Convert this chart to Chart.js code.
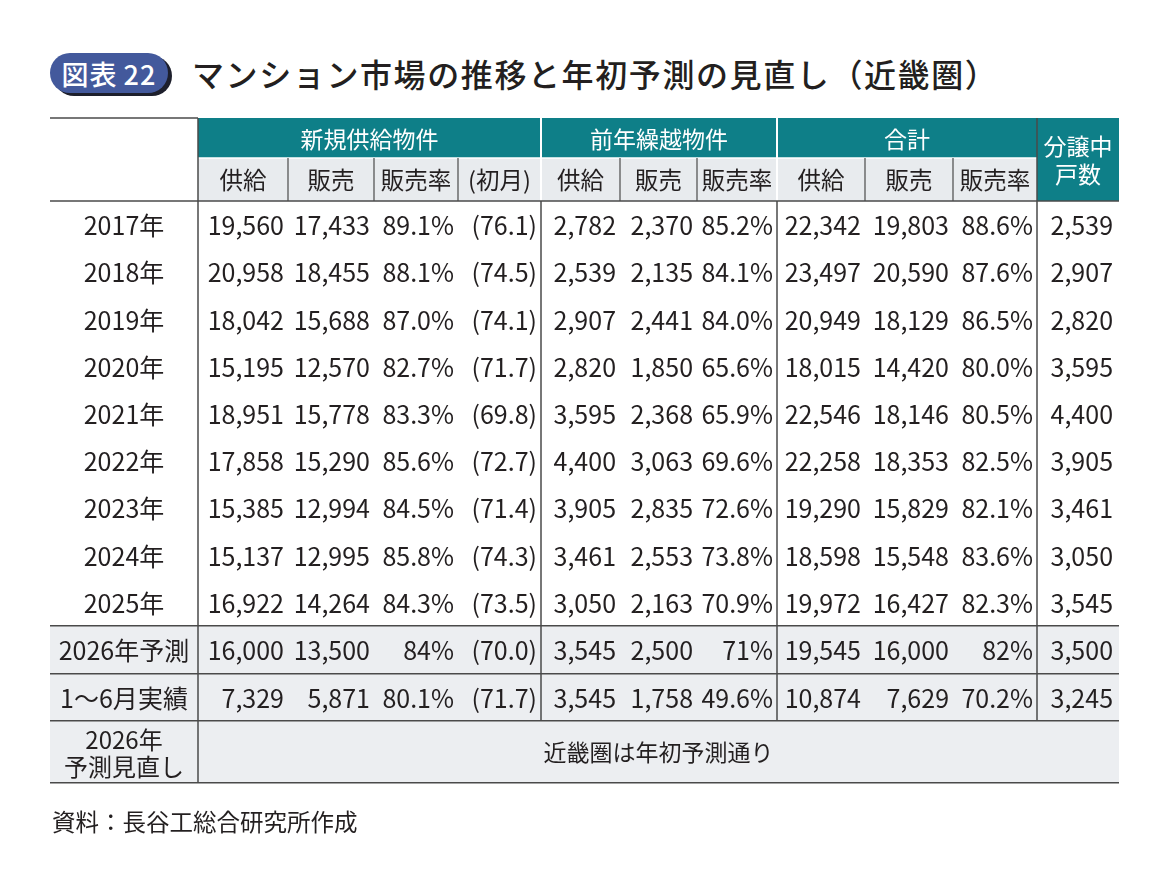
<!DOCTYPE html>
<html lang="ja">
<head>
<meta charset="utf-8">
<title>マンション市場の推移と年初予測の見直し（近畿圏）</title>
<script src="https://cdn.jsdelivr.net/npm/chart.js@4.4.1/dist/chart.umd.min.js"></script>
<style>
  html, body { margin: 0; padding: 0; background: #fff; }
  body {
    width: 1170px; height: 881px; position: relative; overflow: hidden;
    font-family: "Noto Sans CJK JP", "Noto Sans", sans-serif; color: #231f20;
  }
  #table { position: absolute; left: 0; top: 0; }
  .head { position: absolute; left: 50px; top: 53px; height: 40px; display: flex; align-items: center; }
  .badge {
    width: 118px; height: 40px; border-radius: 20px; background: #43599c;
    box-shadow: 4px 3px 0 #1d1f2c; color: #fff; font-size: 27px; font-weight: 500;
    display: flex; align-items: center; justify-content: center; letter-spacing: 1px;
  }
  .badge span { margin-left: 6px; }
  .title { margin-left: 24px; font-size: 32px; font-weight: 500; letter-spacing: 1.6px; white-space: nowrap; }
  .source { position: absolute; left: 52px; top: 804px; font-size: 23.5px; }
</style>
</head>
<body>

<div class="head">
  <div class="badge">図表<span>22</span></div>
  <div class="title">マンション市場の推移と年初予測の見直し（近畿圏）</div>
</div>

<canvas id="table" width="1170" height="881"></canvas>

<div class="source">資料：長谷工総合研究所作成</div>

<script>

/*
============================================================
Data
============================================================
*/

const groups = ["新規供給物件", "前年繰越物件", "合計"];

const subHeaders = ["供給", "販売", "販売率", "(初月)", "供給", "販売", "販売率", "供給", "販売", "販売率"];

const unsoldHeader = ["分譲中", "戸数"];

const rowLabels = ["2017年", "2018年", "2019年", "2020年", "2021年", "2022年", "2023年", "2024年", "2025年", "2026年予測", "1～6月実績"];

const newSupply = [19560, 20958, 18042, 15195, 18951, 17858, 15385, 15137, 16922, 16000, 7329];

const newSold = [17433, 18455, 15688, 12570, 15778, 15290, 12994, 12995, 14264, 13500, 5871];

const newRate = [89.1, 88.1, 87.0, 82.7, 83.3, 85.6, 84.5, 85.8, 84.3, 84, 80.1];

const firstMonthRate = [76.1, 74.5, 74.1, 71.7, 69.8, 72.7, 71.4, 74.3, 73.5, 70.0, 71.7];

const carrySupply = [2782, 2539, 2907, 2820, 3595, 4400, 3905, 3461, 3050, 3545, 3545];

const carrySold = [2370, 2135, 2441, 1850, 2368, 3063, 2835, 2553, 2163, 2500, 1758];

const carryRate = [85.2, 84.1, 84.0, 65.6, 65.9, 69.6, 72.6, 73.8, 70.9, 71, 49.6];

const totalSupply = [22342, 23497, 20949, 18015, 22546, 22258, 19290, 18598, 19972, 19545, 10874];

const totalSold = [19803, 20590, 18129, 14420, 18146, 18353, 15829, 15548, 16427, 16000, 7629];

const totalRate = [88.6, 87.6, 86.5, 80.0, 80.5, 82.5, 82.1, 83.6, 82.3, 82, 70.2];

const unsoldUnits = [2539, 2907, 2820, 3595, 4400, 3905, 3461, 3050, 3545, 3500, 3245];

// decimals shown for the 販売率 columns (the forecast row is rounded)
const rateDigits = [1, 1, 1, 1, 1, 1, 1, 1, 1, 0, 1];

const revisionLabel = ["2026年", "予測見直し"];

const revisionNote = "近畿圏は年初予測通り";

/*
============================================================
Layout
============================================================
*/

const colWidths = [148, 90, 86, 84, 83, 79, 77, 80, 88, 88, 84, 82];

const rowHeights = [40, 43, 47.2, 47.2, 47.2, 47.2, 47.2, 47.2, 47.2, 47.2, 47.2, 48, 47, 62];

const COLORS = {
    teal: "#0e7f88",
    subHeader: "#e8ebee",
    shaded: "#eceef1",
    line: "#4a4a4a",
    text: "#231f20"
};

const FONT = "'Noto Sans CJK JP', 'Noto Sans', sans-serif";

const colEdges = [0];
colWidths.forEach(w => colEdges.push(colEdges[colEdges.length - 1] + w));

const rowEdges = [0];
rowHeights.forEach(h => rowEdges.push(rowEdges[rowEdges.length - 1] + h));

const tableWidth = colEdges[colEdges.length - 1];

const tableHeight = rowEdges[rowEdges.length - 1];

/*
============================================================
Cell values per column
============================================================
*/

const fmtInt = v => v.toLocaleString("en-US");

const fmtRate = (v, i) => v.toFixed(rateDigits[i]) + "%";

const columns = [
    (i) => fmtInt(newSupply[i]),
    (i) => fmtInt(newSold[i]),
    (i) => fmtRate(newRate[i], i),
    (i) => "(" + firstMonthRate[i].toFixed(1) + ")",
    (i) => fmtInt(carrySupply[i]),
    (i) => fmtInt(carrySold[i]),
    (i) => fmtRate(carryRate[i], i),
    (i) => fmtInt(totalSupply[i]),
    (i) => fmtInt(totalSold[i]),
    (i) => fmtRate(totalRate[i], i),
    (i) => fmtInt(unsoldUnits[i])
];

/*
============================================================
Table plugin
============================================================
*/

const tablePlugin = {

    id: "tablePlugin",

    beforeDatasetsDraw(chart) {

        const { ctx, scales: { x, y } } = chart;

        const X = c => x.getPixelForValue(colEdges[c]);
        const Y = r => y.getPixelForValue(rowEdges[r]);

        const fill = (c0, c1, r0, r1, color) => {
            ctx.fillStyle = color;
            ctx.fillRect(X(c0), Y(r0), X(c1) - X(c0), Y(r1) - Y(r0));
        };

        const line = (x0, y0, x1, y1, color, width) => {
            ctx.strokeStyle = color;
            ctx.lineWidth = width;
            ctx.beginPath();
            ctx.moveTo(x0, y0);
            ctx.lineTo(x1, y1);
            ctx.stroke();
        };

        ctx.save();

        // header backgrounds
        fill(1, 11, 0, 1, COLORS.teal);
        fill(1, 11, 1, 2, COLORS.subHeader);
        fill(11, 12, 0, 2, COLORS.teal);

        // shaded bottom rows
        fill(0, 12, 11, 14, COLORS.shaded);

        // group separators inside header
        [5, 8].forEach(c => line(X(c), Y(0), X(c), Y(2), "#ffffff", 2));
        line(X(1), Y(1), X(11), Y(1), "#ffffff", 1.5);

        // sub header separators
        [2, 3, 4, 6, 7, 9, 10].forEach(c => line(X(c), Y(1), X(c), Y(2), COLORS.line, 1.2));

        // horizontal rules
        line(X(0), Y(0), X(1), Y(0), COLORS.line, 1.5);
        [2, 11, 12, 13, 14].forEach(r => line(X(0), Y(r), X(12), Y(r), COLORS.line, 1.5));

        // vertical rules
        line(X(1), Y(0), X(1), Y(14), COLORS.line, 1.5);
        [5, 8].forEach(c => line(X(c), Y(2), X(c), Y(13), COLORS.line, 1.5));
        line(X(11), Y(0), X(11), Y(13), COLORS.line, 1.5);

        ctx.restore();

    },

    afterDatasetsDraw(chart) {

        const { ctx, scales: { x, y } } = chart;

        const X = c => x.getPixelForValue(colEdges[c]);
        const Y = r => y.getPixelForValue(rowEdges[r]);
        const midX = (c0, c1) => (X(c0) + X(c1)) / 2;
        const midY = (r0, r1) => (Y(r0) + Y(r1)) / 2;

        const text = (str, px, py, align, size, color) => {
            ctx.font = `${size}px ${FONT}`;
            ctx.fillStyle = color;
            ctx.textAlign = align;
            ctx.textBaseline = "middle";
            ctx.fillText(str, px, py);
        };

        ctx.save();

        // group headers
        text(groups[0], midX(1, 5), midY(0, 1) + 1, "center", 23, "#ffffff");
        text(groups[1], midX(5, 8), midY(0, 1) + 1, "center", 23, "#ffffff");
        text(groups[2], midX(8, 11), midY(0, 1) + 1, "center", 23, "#ffffff");

        text(unsoldHeader[0], midX(11, 12), midY(0, 2) - 13, "center", 23, "#ffffff");
        text(unsoldHeader[1], midX(11, 12), midY(0, 2) + 15, "center", 23, "#ffffff");

        // sub headers
        subHeaders.forEach((s, k) => {
            text(s, midX(k + 1, k + 2), midY(1, 2) + 1, "center", 23.5, COLORS.text);
        });

        // body
        rowLabels.forEach((label, i) => {

            const r = i + 2;
            const cy = midY(r, r + 1) + 1;

            text(label, midX(0, 1), cy, "center", 25, COLORS.text);

            columns.forEach((fmt, k) => {
                const pad = k === 10 ? 6 : 4;
                text(fmt(i), X(k + 2) - pad, cy, "right", 25, COLORS.text);
            });

        });

        // revision row
        text(revisionLabel[0], midX(0, 1), midY(13, 14) - 12, "center", 24, COLORS.text);
        text(revisionLabel[1], midX(0, 1), midY(13, 14) + 15, "center", 24, COLORS.text);
        text(revisionNote, midX(1, 12), midY(13, 14), "center", 23, COLORS.text);

        ctx.restore();

    }

};

/*
============================================================
Create Chart
============================================================
*/

const canvas = document.getElementById("table");

new Chart(canvas.getContext("2d"), {

    type: "scatter",

    data: { datasets: [] },

    options: {

        responsive: false,

        animation: false,

        layout: {
            padding: { left: 50, right: 1170 - 50 - tableWidth, top: 118, bottom: 881 - 118 - tableHeight }
        },

        plugins: {
            legend: { display: false },
            tooltip: { enabled: false }
        },

        scales: {
            x: { type: "linear", display: false, min: 0, max: tableWidth },
            y: { type: "linear", display: false, min: 0, max: tableHeight, reverse: true }
        }

    },

    plugins: [tablePlugin]

});

</script>
</body>
</html>
